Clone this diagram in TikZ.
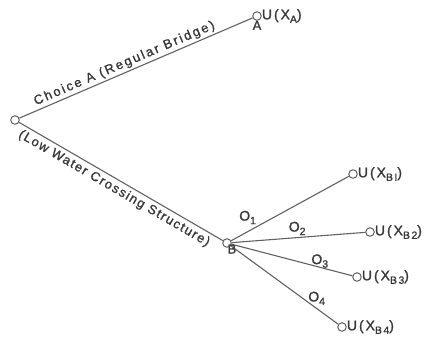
\documentclass[tikz,border=0pt]{standalone}
\usepackage{fontspec}
\usetikzlibrary{positioning}
\setmainfont{Liberation Sans}[LetterSpace=8, FakeBold=1.2]
\newcommand\sbx[1]{\raisebox{-3.5pt}{\fontsize{10.5}{11}\selectfont #1}}
\begin{document}
\begin{tikzpicture}[x=1pt,y=-1pt,
  ln/.style={draw=black!62, line width=1.1pt},
  dot/.style={circle, draw=black!62, line width=1pt, fill=white, inner sep=0pt, minimum size=8.5pt},
  lab/.style={text=black!78, font=\fontsize{13}{15}\selectfont, inner sep=1pt},
  ulab/.style={lab, anchor=west, inner sep=1pt, xshift=-1pt, font=\fontsize{14}{16}\selectfont\addfontfeatures{LetterSpace=14}}]
\useasboundingbox (0,0) rectangle (431,343);
\node[dot] (R) at (15,120) {};
\node[dot] (A) at (257,16) {};
\node[dot] (B) at (227,243) {};
\node[dot] (B1) at (353,174) {};
\node[dot] (B2) at (370,232) {};
\node[dot] (B3) at (357,277) {};
\node[dot] (B4) at (342,327) {};
\draw[ln] (R) -- node[lab, sloped, above, pos=0.465, yshift=1pt, font=\fontsize{13}{15}\selectfont\addfontfeatures{LetterSpace=16}] (ta) {Choice A (Regular Bridge)} (A);
\draw[ln] (R) -- node[lab, sloped, below, pos=0.49, yshift=-2pt, font=\fontsize{13}{15}\selectfont\addfontfeatures{LetterSpace=11}] (tb) {(Low Water Crossing Structure)} (B);
\draw[ln] (B) -- node[lab, above, pos=0.14, yshift=6pt, font=\fontsize{14}{16}\selectfont] (o1) {O\sbx{1}} (B1);
\draw[ln] (B) -- node[lab, above, pos=0.49, yshift=1pt, font=\fontsize{14}{16}\selectfont] (o2) {O\sbx{2}} (B2);
\draw[ln] (B) -- node[lab, above, pos=0.73, yshift=-2pt, font=\fontsize{14}{16}\selectfont] (o3) {O\sbx{3}} (B3);
\draw[ln] (B) -- node[lab, above, pos=0.8, yshift=2pt, font=\fontsize{14}{16}\selectfont] (o4) {O\sbx{4}} (B4);
\node[ulab] (uA) at (A.east) {U(X\sbx{A})};
\node[lab, below=-1pt of A] (lA) {A};
\node[lab, below right=-3pt and -4pt of B] (lB) {B};
\node[ulab] (u1) at (B1.east) {U(X\sbx{BI})};
\node[ulab] (u2) at (B2.east) {U(X\sbx{B2})};
\node[ulab] (u3) at (B3.east) {U(X\sbx{B3})};
\node[ulab] (u4) at (B4.east) {U(X\sbx{B4})};
\end{tikzpicture}
\end{document}
